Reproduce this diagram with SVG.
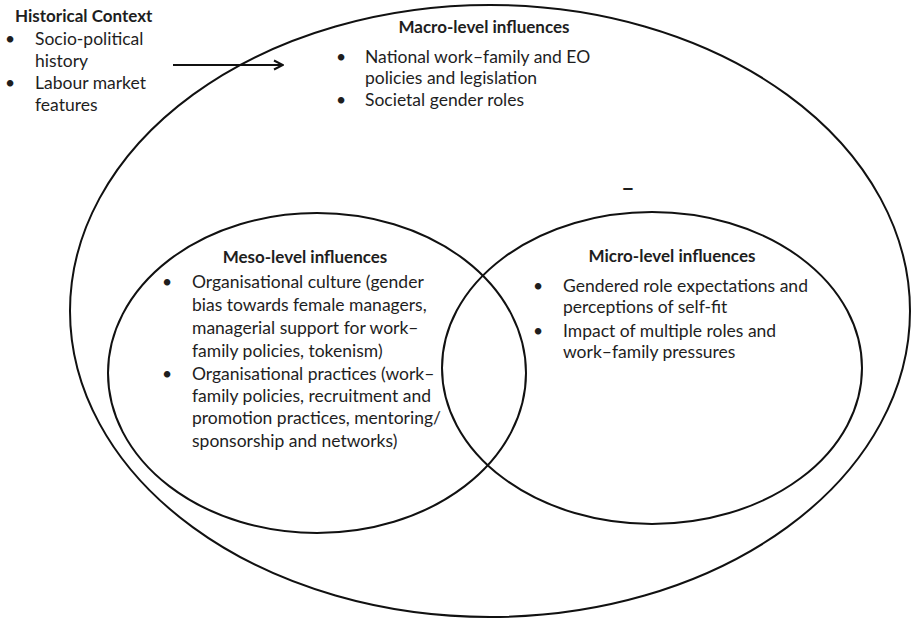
<svg xmlns="http://www.w3.org/2000/svg" width="912" height="618" viewBox="0 0 912 618">
<defs>
<marker id="arr" viewBox="0 0 12 12" refX="11" refY="6" markerWidth="12" markerHeight="12" markerUnits="userSpaceOnUse" orient="auto">
<path d="M2,1.5 L11,6 L2,10.5" fill="none" stroke="#111" stroke-width="2"/>
</marker>
</defs>
<style>
.ring{fill:none;stroke:#111;stroke-width:2}
text{font-family:Lato,"Open Sans","Liberation Sans",sans-serif;font-size:17.5px;fill:#1e1e1e}
.t{font-weight:bold;font-size:17px}
.c{text-anchor:middle}
.d{font-weight:bold;font-size:23px}
</style>
<rect width="912" height="618" fill="#fff"/>
<g id="macro">
<ellipse class="ring" cx="490" cy="311" rx="420" ry="306"/>
<text class="t c" x="484" y="33">Macro-level influences</text>
<text x="336" y="63">•</text><text x="365" y="63">National work–family and EO</text>
<text x="365" y="84">policies and legislation</text>
<text x="336" y="106">•</text><text x="365" y="106">Societal gender roles</text>
<text class="d c" x="628" y="196">–</text>
</g>
<g id="meso">
<ellipse class="ring" cx="317" cy="373" rx="209" ry="160"/>
<text class="t c" x="305" y="263">Meso-level influences</text>
<text x="162" y="288">•</text><text x="192" y="288">Organisational culture (gender</text>
<text x="192" y="311">bias towards female managers,</text>
<text x="192" y="334">managerial support for work–</text>
<text x="192" y="357">family policies, tokenism)</text>
<text x="162" y="380">•</text><text x="192" y="380">Organisational practices (work–</text>
<text x="192" y="402">family policies, recruitment and</text>
<text x="192" y="424">promotion practices, mentoring/</text>
<text x="192" y="447">sponsorship and networks)</text>
</g>
<g id="micro">
<ellipse class="ring" cx="652" cy="368" rx="210" ry="156"/>
<text class="t c" x="672" y="262">Micro-level influences</text>
<text x="533" y="292">•</text><text x="563" y="292">Gendered role expectations and</text>
<text x="563" y="313">perceptions of self-fit</text>
<text x="533" y="337">•</text><text x="563" y="337">Impact of multiple roles and</text>
<text x="563" y="358">work–family pressures</text>
</g>
<g id="historical">
<text class="t" x="15" y="22">Historical Context</text>
<text x="5" y="45">•</text><text x="35" y="45">Socio-political</text>
<text x="35" y="67">history</text>
<text x="5" y="89">•</text><text x="35" y="89">Labour market</text>
<text x="35" y="111">features</text>
</g>
<g id="connectors">
<line x1="173" y1="65" x2="283" y2="65" stroke="#111" stroke-width="2" marker-end="url(#arr)"/>
</g>
</svg>
